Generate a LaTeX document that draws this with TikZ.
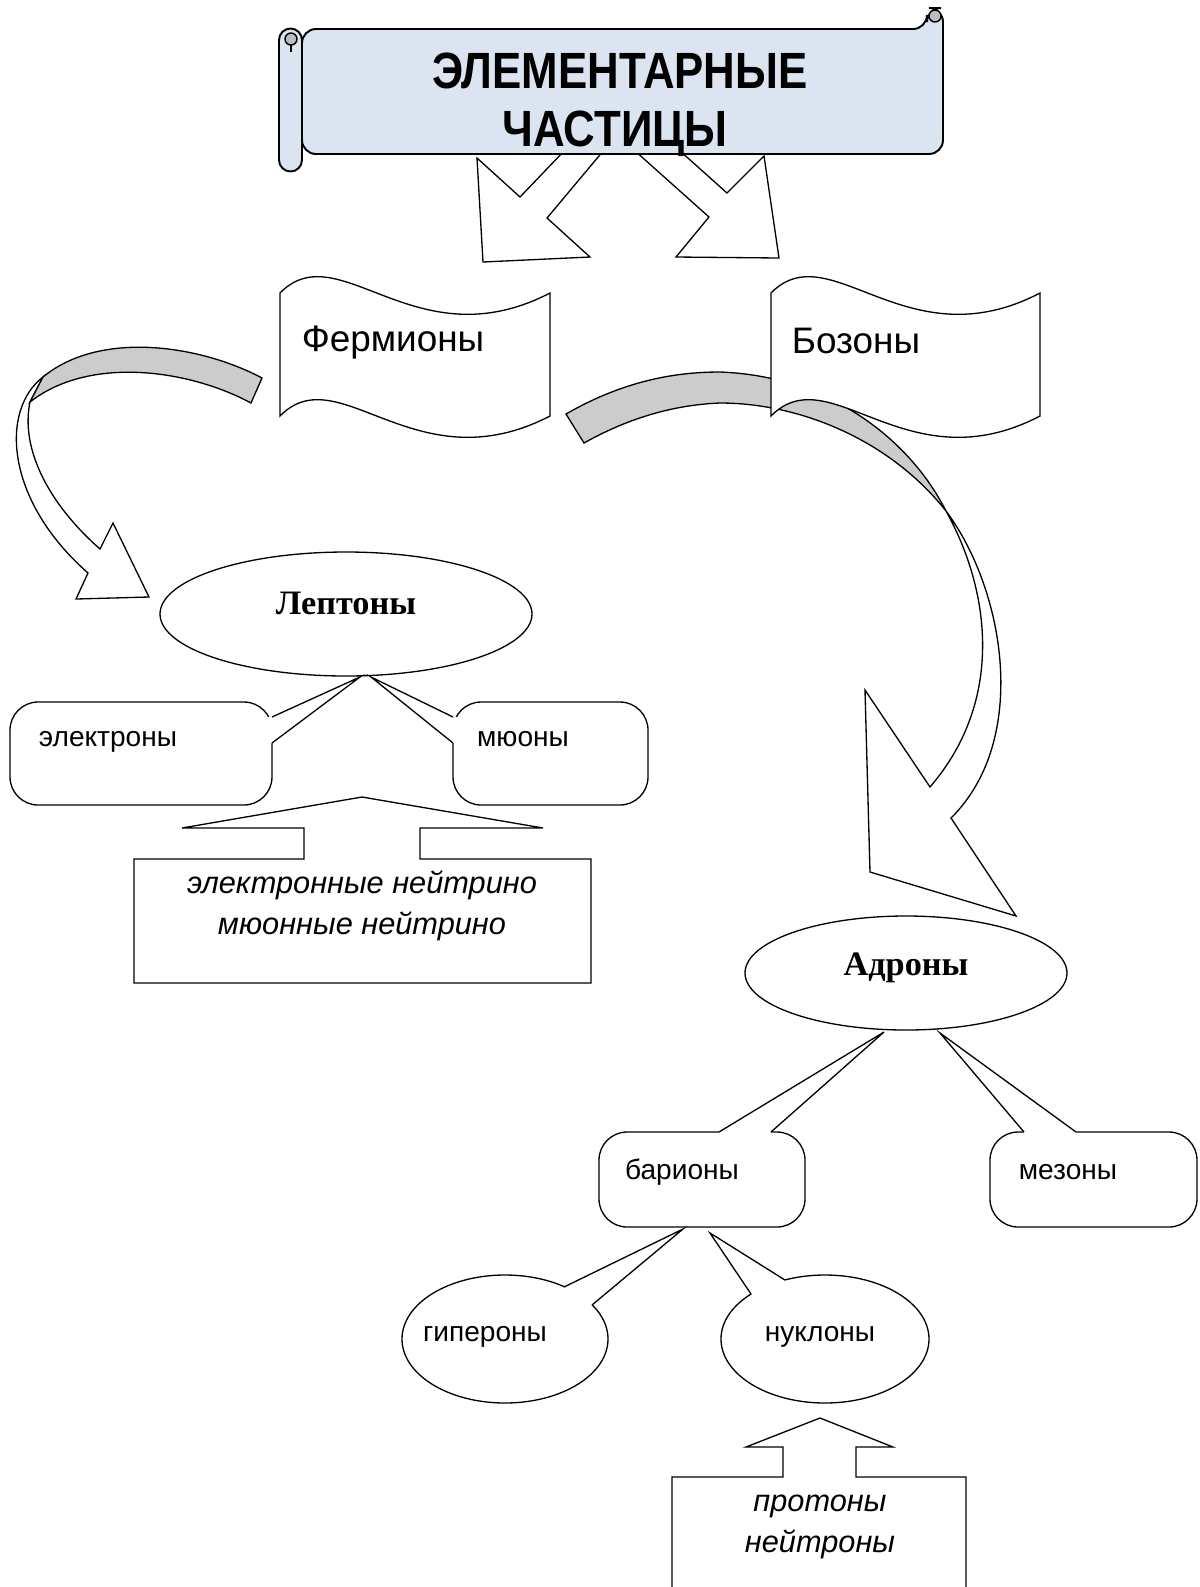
\documentclass[tikz,border=0pt]{standalone}
\usepackage{fontspec}
\setmainfont{Liberation Sans}
\newfontfamily\timesfont{Liberation Serif}
\definecolor{scrollblue}{RGB}{219,229,241}
\definecolor{ribbongray}{RGB}{204,204,204}
\definecolor{curlgray}{RGB}{185,190,198}

\begin{document}
\begin{tikzpicture}[x=0.02cm, y=-0.02cm,
  outline/.style={draw=black, line width=0.75pt, fill=white, line join=miter},
  ribbon/.style={draw=black, line width=0.75pt, fill=ribbongray},
  edge line/.style={draw=black, line width=0.75pt},
  scroll/.style={draw=black, line width=1.1pt, fill=scrollblue},
  titletext/.style={font=\fontsize{29}{34}\selectfont\bfseries, inner sep=0pt, anchor=base},
  flagtext/.style={font=\fontsize{21}{25}\selectfont, inner sep=0pt},
  boldtext/.style={font=\timesfont\fontsize{19.5}{23}\selectfont\bfseries, inner sep=0pt},
  smalltext/.style={font=\fontsize{16}{19}\selectfont, inner sep=0pt},
  italtext/.style={font=\fontsize{17.5}{23}\selectfont\itshape, inner sep=0pt, align=center}]
  \useasboundingbox (0,0) rectangle (1200,1587);
  \fill[white] (0,0) rectangle (1200,1587);

  % two block arrows under the scroll
  \draw[outline] (604,150) -- (547,218) -- (590,257) -- (483,262) -- (477,158) -- (520,197) -- (565,150) -- cycle;
  \draw[outline] (634,150) -- (709,217) -- (676,257) -- (779,258) -- (764,156) -- (727,193) -- (679,150) -- cycle;

  % scroll banner
  \draw[scroll, rounded corners=8] (302,29) -- (927,29) -- (927,8) -- (943,8) -- (943,154) -- (302,154) -- cycle;
  \draw[scroll, line width=0.8pt, fill=curlgray] (935,16) circle[radius=6];
  \draw[scroll] (279,40) -- (279,160) arc[start angle=180, end angle=0, radius=11.5] -- (302,40) arc[start angle=0, end angle=-180, radius=11.5] -- cycle;
  \draw[scroll, line width=0.8pt, fill=curlgray] (291,39) circle[radius=6];
  \draw[edge line] (291,45) -- (291,52);
  \node[titletext] (title1) at (620,88) {\scalebox{0.86}[1]{ЭЛЕМЕНТАРНЫЕ}};
  \node[titletext] (title2) at (615,146) {\scalebox{0.86}[1]{ЧАСТИЦЫ}};

  % curved arrow to the leptons
  \draw[outline] (43,377) .. controls (0,410) and (5,500) .. (88,573) -- (76,599) -- (149,597) -- (113,523) -- (100,549) .. controls (50,505) and (20,450) .. (30,402) -- cycle;
  \draw[ribbon] (262,378) .. controls (200,345) and (100,330) .. (43,377) -- (30,402) .. controls (90,355) and (190,370) .. (251,403) -- cycle;

  % curved arrow to the hadrons
  \draw[ribbon] (566,414) .. controls (620,383) and (670,372) .. (720,372) .. controls (830,376) and (910,440) .. (946,511) .. controls (890,440) and (800,403) .. (720,403) .. controls (670,405) and (625,420) .. (584,443) -- cycle;
  \draw[outline] (946,511) .. controls (1005,590) and (1030,740) .. (951,818) -- (1016,916) -- (870,872) -- (865,690) -- (930,787) .. controls (1005,700) and (990,590) .. (946,511) -- cycle;

  % wave flags
  \draw[outline] (280,293) .. controls (339,233) and (415,363) .. (550,293) -- (550,416) .. controls (415,486) and (339,356) .. (280,416) -- cycle;
  \draw[outline] (771,293) .. controls (830,233) and (906,363) .. (1040,293) -- (1040,416) .. controls (906,486) and (830,356) .. (771,416) -- cycle;
  \node[flagtext] (fermions) at (393,343) {Фермионы};
  \node[flagtext] (bosons) at (856,341) {Бозоны};

  % leptons
  \draw[outline] (346,614) ellipse[x radius=186, y radius=62];
  \node[boldtext] (leptons) at (346,603) {Лептоны};
  \draw[outline, rounded corners=16] (10,702) rectangle (272,805);
  \fill[white] (272,717) -- (360,677) -- (272,743) -- (266,743) -- (266,717) -- cycle;
  \draw[edge line] (272,717) -- (360,677) -- (272,743);
  \draw[outline, rounded corners=16] (453,702) rectangle (648,805);
  \fill[white] (453,717) -- (371,677) -- (453,743) -- (459,743) -- (459,717) -- cycle;
  \draw[edge line] (453,717) -- (371,677) -- (453,743);
  \node[smalltext] (electrons) at (108,742) {электроны};
  \node[smalltext] (muons) at (523,739) {мюоны};
  \draw[outline] (134,859) -- (304,859) -- (304,828) -- (182,828) -- (362,797) -- (543,828) -- (420,828) -- (420,859) -- (591,859) -- (591,983) -- (134,983) -- cycle;
  \node[italtext] (neutrinos) at (362,906) {электронные нейтрино\\мюонные нейтрино};

  % hadrons
  \draw[outline] (906,973) ellipse[x radius=161, y radius=57];
  \node[boldtext] (hadrons) at (906,968) {Адроны};
  \draw[outline, rounded corners=16] (599,1132) rectangle (805,1227);
  \fill[white] (719,1132) -- (884,1032) -- (771,1132) -- (771,1138) -- (719,1138) -- cycle;
  \draw[edge line] (719,1132) -- (884,1032) -- (771,1132);
  \draw[outline, rounded corners=16] (990,1132) rectangle (1197,1227);
  \fill[white] (1024,1132) -- (940,1033) -- (1076,1132) -- (1076,1138) -- (1024,1138) -- cycle;
  \draw[edge line] (1024,1132) -- (940,1033) -- (1076,1132);
  \node[smalltext] (baryons) at (682,1172) {барионы};
  \node[smalltext] (mesons) at (1068,1172) {мезоны};

  % baryons
  \draw[outline] (505,1339) ellipse[x radius=103, y radius=64];
  \fill[white] (564,1287) -- (683,1229) -- (592,1305) -- (569,1301) -- cycle;
  \draw[edge line] (564,1287) -- (683,1229) -- (592,1305);
  \draw[outline] (825,1339) ellipse[x radius=104, y radius=64];
  \fill[white] (751,1294) -- (710,1233) -- (785,1280) -- (775,1294) -- cycle;
  \draw[edge line] (751,1294) -- (710,1233) -- (785,1280);
  \node[smalltext] (hyperons) at (485,1337) {гипероны};
  \node[smalltext] (nucleons) at (820,1337) {нуклоны};
  \draw[outline] (672,1477) -- (783,1477) -- (783,1447) -- (746,1447) -- (820,1418) -- (893,1447) -- (856,1447) -- (856,1477) -- (966,1477) -- (966,1600) -- (672,1600) -- cycle;
  \node[italtext] (nucleonparts) at (820,1527) {протоны\\нейтроны};
\end{tikzpicture}
\end{document}
